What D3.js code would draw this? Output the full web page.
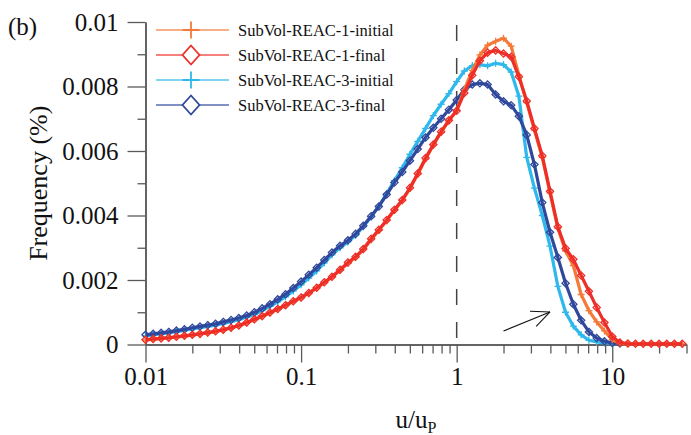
<!DOCTYPE html>
<html><head><meta charset="utf-8">
<script src="https://cdn.jsdelivr.net/npm/d3@7"></script>
<style>body{margin:0;background:#fff}svg{display:block}</style>
</head><body><svg id="c" width="691" height="435"></svg>
<script>
const uVals = [0.0100,0.0112,0.0126,0.0141,0.0158,0.0178,0.0200,0.0224,0.0251,0.0282,0.0316,0.0355,0.0398,0.0447,0.0501,0.0562,0.0631,0.0708,0.0794,0.0891,0.100,0.112,0.126,0.141,0.158,0.178,0.200,0.224,0.251,0.282,0.316,0.355,0.398,0.447,0.501,0.562,0.631,0.708,0.794,0.891,1.00,1.12,1.26,1.41,1.58,1.78,2.00,2.24,2.51,2.82,3.16,3.55,3.98,4.47,5.01,5.62,6.31,7.08,7.94,8.91,10.0,11.2,12.6,14.1,15.8,17.8,20.0,22.4,25.1,28.2];

const reac1Initial = [0.00014,0.00016,0.00019,0.00021,0.00023,0.00026,0.00029,0.00033,0.00036,0.00040,0.00045,0.00051,0.00058,0.00067,0.00077,0.00087,0.00098,0.00109,0.00121,0.00133,0.00145,0.00159,0.00175,0.00192,0.00209,0.00230,0.00252,0.00270,0.00294,0.00325,0.00354,0.00384,0.00416,0.00446,0.00484,0.00528,0.00575,0.00618,0.00658,0.00694,0.00726,0.00790,0.00850,0.00898,0.00928,0.00940,0.00950,0.00925,0.00835,0.00750,0.00665,0.00580,0.00470,0.00360,0.00290,0.00245,0.00155,0.00105,0.00070,0.00042,0.00015,0.00003,0.00002,0.00002,0.00002,0.00002,0.00002,0.00002,0.00002,0.00002];

const reac1Final = [0.00015,0.00017,0.00019,0.00021,0.00024,0.00027,0.00030,0.00033,0.00037,0.00041,0.00046,0.00052,0.00059,0.00068,0.00078,0.00088,0.00099,0.00110,0.00122,0.00134,0.00146,0.00160,0.00176,0.00193,0.00210,0.00232,0.00254,0.00272,0.00296,0.00328,0.00356,0.00386,0.00418,0.00448,0.00486,0.00530,0.00578,0.00620,0.00660,0.00695,0.00725,0.00780,0.00835,0.00880,0.00905,0.00912,0.00902,0.00892,0.00830,0.00755,0.00670,0.00585,0.00475,0.00365,0.00298,0.00264,0.00214,0.00165,0.00115,0.00068,0.00025,0.00006,0.00003,0.00002,0.00002,0.00002,0.00002,0.00002,0.00002,0.00002];

const reac3Initial = [0.00027,0.00030,0.00033,0.00036,0.00040,0.00044,0.00048,0.00052,0.00056,0.00060,0.00065,0.00071,0.00077,0.00085,0.00093,0.00105,0.00118,0.00132,0.00148,0.00166,0.00185,0.00206,0.00228,0.00253,0.00278,0.00300,0.00318,0.00339,0.00365,0.00396,0.00429,0.00468,0.00508,0.00548,0.00590,0.00630,0.00670,0.00710,0.00745,0.00778,0.00815,0.00848,0.00865,0.00868,0.00864,0.00872,0.00868,0.00845,0.00770,0.00580,0.00485,0.00400,0.00305,0.00180,0.00100,0.00057,0.00030,0.00013,0.00008,0.00005,0.00004,0.00003];

const reac3Final = [0.00030,0.00033,0.00036,0.00039,0.00043,0.00047,0.00052,0.00056,0.00060,0.00064,0.00070,0.00076,0.00082,0.00090,0.00100,0.00112,0.00125,0.00140,0.00156,0.00175,0.00195,0.00216,0.00238,0.00262,0.00285,0.00306,0.00323,0.00343,0.00368,0.00398,0.00428,0.00465,0.00502,0.00535,0.00570,0.00606,0.00642,0.00672,0.00700,0.00728,0.00758,0.00790,0.00806,0.00810,0.00806,0.00775,0.00754,0.00742,0.00708,0.00650,0.00558,0.00440,0.00348,0.00270,0.00190,0.00125,0.00075,0.00039,0.00020,0.00010,0.00005,0.00003];

const seriesNames = ["SubVol-REAC-1-initial","SubVol-REAC-1-final","SubVol-REAC-3-initial","SubVol-REAC-3-final"];
const seriesColors = ["#f47a3a","#ee2e28","#2fb8ec","#30489c"];
const seriesMarkers = ["plus","diamond","plus","diamond"];
const seriesValues = [reac1Initial, reac1Final, reac3Initial, reac3Final];

const xMajorTicks = [0.01, 0.1, 1, 10];
const xMinorTicks = [0.02,0.03,0.04,0.05,0.06,0.07,0.08,0.09,0.2,0.3,0.4,0.5,0.6,0.7,0.8,0.9,2,3,4,5,6,7,8,9,20,30];
const yMajorTicks = [0, 0.002, 0.004, 0.006, 0.008, 0.01];
const yMinorTicks = [0.001, 0.003, 0.005, 0.007, 0.009];
const refLineU = 1;
const arrowFrom = [2.0, 0.00042];
const arrowTo = [3.98, 0.00101];

const svg = d3.select("#c");
const serif = "'Liberation Serif','Times New Roman',serif";
const axisColor = "#5a5a5a";

const x = d3.scaleLog().domain([0.01, 30]).range([145.5, 686.5]);
const y = d3.scaleLinear().domain([0, 0.01]).range([344.5, 22]);

function styleAxis(g) {
  g.select(".domain").attr("stroke", axisColor).attr("stroke-width", 1.5);
  g.selectAll(".tick line").attr("stroke", axisColor).attr("stroke-width", 1.3);
  g.selectAll(".tick text").attr("font-family", serif).attr("font-size", 25).attr("fill", "#111");
}

// x axis
const gxMin = svg.append("g").attr("transform", `translate(0,${y(0)})`)
  .call(d3.axisBottom(x).tickValues(xMinorTicks).tickSize(9).tickSizeOuter(0).tickFormat(""));
styleAxis(gxMin);
const gxMaj = svg.append("g").attr("transform", `translate(0,${y(0)})`)
  .call(d3.axisBottom(x).tickValues(xMajorTicks).tickSize(18).tickSizeOuter(0).tickPadding(5)
    .tickFormat(d => String(d)));
styleAxis(gxMaj);

// y axis
const gyMin = svg.append("g").attr("transform", `translate(${x(0.01)},0)`)
  .call(d3.axisLeft(y).tickValues(yMinorTicks).tickSize(8).tickSizeOuter(0).tickFormat(""));
styleAxis(gyMin);
const gyMaj = svg.append("g").attr("transform", `translate(${x(0.01)},0)`)
  .call(d3.axisLeft(y).tickValues(yMajorTicks).tickSize(18).tickSizeOuter(0).tickPadding(9)
    .tickFormat(d => d === 0 ? "0" : String(+d.toFixed(3))));
styleAxis(gyMaj);

// dashed reference line at u = 1
svg.append("line")
  .attr("x1", x(refLineU)).attr("x2", x(refLineU))
  .attr("y1", y(0.01)).attr("y2", y(0))
  .attr("stroke", "#444").attr("stroke-width", 1.5)
  .attr("stroke-dasharray", "16,17").attr("stroke-dashoffset", -3);

// series (draw order: cyan, blue, orange, red)
const drawOrder = [2, 3, 0, 1];
const line = d3.line().x(d => x(d[0])).y(d => y(d[1]));
function markerPath(type, s) {
  if (type === "plus") return `M${-s},0H${s}M0,${-s}V${s}`;
  return `M0,${-s}L${s},0L0,${s}L${-s},0Z`;
}
drawOrder.forEach(i => {
  const vals = seriesValues[i];
  const pts = vals.map((v, k) => [uVals[k], v]);
  const g = svg.append("g");
  g.append("path").datum(pts).attr("d", line)
    .attr("fill", "none").attr("stroke", seriesColors[i]).attr("stroke-width", 3.2)
    .attr("stroke-linejoin", "round");
  g.selectAll("path.m").data(pts).enter().append("path").attr("class", "m")
    .attr("transform", d => `translate(${x(d[0])},${y(d[1])})`)
    .attr("d", markerPath(seriesMarkers[i], seriesMarkers[i] === "plus" ? 3.5 : 3.6))
    .attr("fill", "none").attr("stroke", seriesColors[i]).attr("stroke-width", 1.3);
});

// arrow annotation
const ax0 = x(arrowFrom[0]), ay0 = y(arrowFrom[1]), ax1 = x(arrowTo[0]), ay1 = y(arrowTo[1]);
svg.append("line").attr("x1", ax0).attr("y1", ay0).attr("x2", ax1).attr("y2", ay1)
  .attr("stroke", "#111").attr("stroke-width", 1.1);
const ang = Math.atan2(ay1 - ay0, ax1 - ax0);
[0.42, -0.42].forEach(da => {
  svg.append("line").attr("x1", ax1).attr("y1", ay1)
    .attr("x2", ax1 - 20 * Math.cos(ang + da)).attr("y2", ay1 - 20 * Math.sin(ang + da))
    .attr("stroke", "#111").attr("stroke-width", 1.1);
});

// legend
const legY = [30, 55, 80, 105];
seriesNames.forEach((name, i) => {
  const g = svg.append("g").attr("transform", `translate(0,${legY[i]})`);
  g.append("line").attr("x1", 156).attr("x2", 229).attr("y1", 0).attr("y2", 0)
    .attr("stroke", seriesColors[i]).attr("stroke-width", 1.5).attr("stroke-opacity", 0.8);
  if (seriesMarkers[i] === "plus") {
    g.append("path").attr("transform", "translate(191,0)").attr("d", markerPath("plus", 8.5))
      .attr("stroke", seriesColors[i]).attr("stroke-width", 1.8).attr("fill", "none");
  } else {
    g.append("path").attr("transform", "translate(191,0)").attr("d", "M0,-9.5L8.5,0L0,9.5L-8.5,0Z")
      .attr("stroke", seriesColors[i]).attr("stroke-width", 1.8).attr("fill", "#fff");
  }
  g.append("text").attr("x", 238).attr("y", 5.5).text(name)
    .attr("font-family", serif).attr("font-size", 16.5).attr("fill", "#111");
});

// titles
svg.append("text").attr("x", 8).attr("y", 35).text("(b)")
  .attr("font-family", serif).attr("font-size", 25).attr("fill", "#111");

svg.append("text")
  .attr("transform", `translate(47,${(y(0) + y(0.01)) / 2}) rotate(-90)`)
  .attr("text-anchor", "middle")
  .attr("font-family", serif).attr("font-size", 26).attr("fill", "#111")
  .text("Frequency (%)");

const xt = svg.append("text")
  .attr("x", (x.range()[0] + x.range()[1]) / 2).attr("y", 428)
  .attr("text-anchor", "middle")
  .attr("font-family", serif).attr("font-size", 25).attr("fill", "#111");
xt.append("tspan").text("u/u");
xt.append("tspan").attr("font-size", 16).attr("dy", 5).text("P");
</script>
</body></html>
